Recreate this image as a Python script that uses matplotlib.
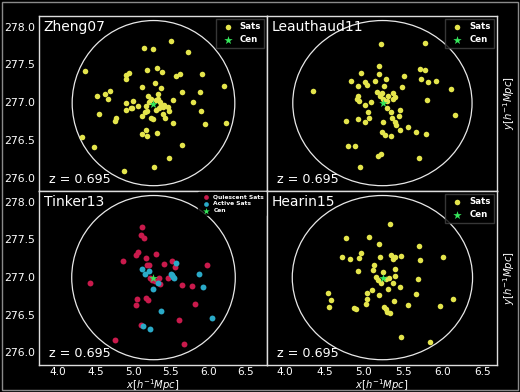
import numpy as np
import matplotlib.pyplot as plt
from matplotlib.patches import Ellipse, Rectangle

# halo centre and redshift (same halo in every panel)
cen_x = [5.263, 5.236, 5.267, 5.236]
cen_y = [276.98, 276.99, 276.99, 276.99]
halo_x = [5.27, 5.234, 5.27, 5.234]
halo_y = [276.99, 276.99, 276.99, 276.99]
halo_r = 1.09
redshift = 0.695
models = ['Zheng07', 'Leauthaud11', 'Tinker13', 'Hearin15']

zheng_x = [5.498, 5.144, 5.259, 5.733, 4.363, 5.188, 5.321, 5.387, 4.949, 4.900,
           4.905, 5.574, 5.618, 5.919, 5.290, 5.370, 5.113, 4.696, 4.629, 4.519,
           4.668, 5.653, 5.888, 6.207, 5.791, 5.525, 4.997, 4.900, 5.064, 4.989,
           4.966, 4.900, 4.550, 4.776, 4.754, 5.113, 5.157, 5.188, 5.241, 5.259,
           5.396, 5.427, 5.480, 5.525, 5.902, 5.950, 6.230, 5.166, 5.113, 5.179,
           5.321, 4.315, 5.644, 4.483, 5.472, 4.873, 5.272, 5.197, 5.241, 5.206,
           5.299, 5.330, 5.352, 5.374, 5.396, 5.343, 5.308, 5.410, 5.175, 5.463,
           5.334]
zheng_y = [277.81, 277.72, 277.71, 277.66, 277.42, 277.43, 277.46, 277.40, 277.39, 277.36,
           277.31, 277.35, 277.38, 277.38, 277.25, 277.19, 277.20, 277.15, 277.11, 277.08,
           277.05, 277.14, 277.14, 277.21, 277.01, 277.03, 277.02, 276.99, 276.95, 276.93,
           276.92, 276.90, 276.84, 276.80, 276.75, 276.82, 276.87, 276.89, 276.79, 276.78,
           276.85, 276.80, 276.89, 276.73, 276.89, 276.72, 276.73, 276.63, 276.58, 276.55,
           276.60, 276.54, 276.44, 276.41, 276.26, 276.10, 276.14, 277.08, 277.05, 277.01,
           277.03, 277.05, 277.01, 276.97, 276.94, 276.92, 276.90, 276.96, 276.95, 276.94,
           277.11]

leau_x = [5.219, 5.776, 4.359, 6.105, 6.152, 5.190, 4.958, 5.194, 4.840, 5.017,
          5.042, 5.139, 5.278, 5.502, 5.709, 5.768, 5.717, 5.806, 5.911, 4.924,
          5.253, 5.485, 5.165, 5.228, 4.924, 4.916, 4.932, 5.363, 5.388, 5.363,
          5.203, 5.245, 5.287, 5.300, 5.793, 5.093, 5.008, 5.291, 5.456, 5.338,
          5.046, 5.439, 5.350, 4.924, 5.063, 4.776, 5.017, 5.241, 5.397, 5.409,
          5.553, 5.460, 5.228, 5.270, 5.338, 5.654, 5.785, 4.802, 4.890, 5.211,
          5.173, 5.700, 4.945]
leau_y = [277.77, 277.78, 277.15, 277.17, 276.83, 277.48, 277.39, 277.38, 277.28, 277.27,
          277.23, 277.28, 277.31, 277.35, 277.44, 277.43, 277.31, 277.27, 277.28, 277.21,
          277.22, 277.20, 277.14, 277.13, 277.09, 277.05, 277.02, 277.12, 277.07, 277.05,
          277.08, 277.04, 277.02, 277.08, 277.03, 277.00, 276.96, 276.92, 276.90, 276.87,
          276.87, 276.82, 276.80, 276.78, 276.79, 276.76, 276.74, 276.74, 276.74, 276.70,
          276.67, 276.64, 276.61, 276.57, 276.56, 276.61, 276.58, 276.43, 276.43, 276.32,
          276.29, 276.27, 276.14]

# Tinker13 splits satellites into quiescent and active
tink_q_x = [5.117, 5.104, 5.148, 5.304, 5.060, 5.040, 4.864, 5.166, 5.183, 5.210,
            5.405, 5.520, 5.560, 5.981, 4.430, 5.343, 5.462, 5.219, 5.246, 5.294,
            5.361, 5.650, 5.787, 5.046, 5.042, 5.166, 5.193, 5.818, 5.099, 5.605,
            4.758, 5.671]
tink_q_y = [277.66, 277.56, 277.52, 277.30, 277.33, 277.29, 277.21, 277.25, 277.16, 277.16,
            277.17, 277.21, 277.13, 277.16, 276.92, 276.99, 276.99, 276.99, 276.96, 276.95,
            276.91, 276.89, 276.88, 276.71, 276.63, 276.72, 276.69, 276.64, 276.36, 276.43,
            276.16, 276.11]
tink_a_x = [5.121, 5.152, 5.206, 5.565, 5.512, 5.530, 5.548, 5.503, 5.871, 5.933,
            5.330, 5.263, 5.374, 6.048, 5.135, 5.223]
tink_a_y = [277.11, 277.04, 277.08, 277.18, 277.02, 277.00, 276.99, 277.04, 277.04, 276.86,
            276.92, 276.84, 276.55, 276.46, 276.35, 276.31]

hear_x = [5.333, 4.772, 5.068, 5.194, 5.696, 5.996, 4.717, 4.823, 4.941, 4.958,
          5.203, 5.338, 5.363, 5.388, 5.473, 5.705, 5.131, 5.392, 4.920, 5.118,
          5.245, 5.152, 5.181, 5.211, 5.278, 5.312, 5.371, 5.392, 5.684, 5.456,
          5.308, 5.105, 5.034, 5.190, 5.658, 4.540, 4.578, 4.561, 5.038, 5.025,
          5.376, 5.561, 5.966, 6.127, 4.873, 4.899, 5.253, 5.274, 5.295, 5.325,
          5.468, 5.831]
hear_y = [277.70, 277.52, 277.53, 277.43, 277.41, 277.27, 277.27, 277.24, 277.25, 277.32,
          277.27, 277.29, 277.24, 277.26, 277.28, 277.22, 277.16, 277.10, 277.08, 277.09,
          277.07, 277.00, 276.96, 276.92, 276.97, 276.98, 276.92, 277.01, 276.97, 276.87,
          276.84, 276.83, 276.79, 276.76, 276.77, 276.79, 276.69, 276.60, 276.71, 276.64,
          276.68, 276.63, 276.61, 276.70, 276.59, 276.57, 276.60, 276.57, 276.54, 276.52,
          276.20, 276.13]

xticks = [4.0, 4.5, 5.0, 5.5, 6.0, 6.5]
yticks = [276.0, 276.5, 277.0, 277.5, 278.0]

sat_col = '#e4e54c'
cen_col = '#36e85c'
q_col = '#c91a4c'
a_col = '#2aaac8'

plt.rcParams['font.family'] = 'DejaVu Sans'
fig = plt.figure(figsize=(5.2, 3.92), dpi=100, facecolor='black')

# axes boxes (left, bottom, width, height) and per-column x limits
boxes = [(0.075, 0.5128, 0.4385, 0.4464), (0.5135, 0.5128, 0.442, 0.4464),
         (0.075, 0.0689, 0.4385, 0.4439), (0.5135, 0.0689, 0.442, 0.4439)]
xlims = [(3.747, 6.78), (3.772, 6.684), (3.747, 6.78), (3.772, 6.684)]
ylim = (275.83, 278.14)

axes = []
for i, box in enumerate(boxes):
    ax = fig.add_axes(box, facecolor='black')
    ax.set_xlim(*xlims[i])
    ax.set_ylim(*ylim)
    for s in ax.spines.values():
        s.set_color('#dddddd')
        s.set_linewidth(1.0)
    ax.set_xticks(xticks)
    ax.set_yticks(yticks)
    ax.tick_params(length=0, pad=3, labelsize=7.8, colors='white')
    ax.tick_params(axis='x', pad=1.5, labelsize=7.6)
    if i % 2 == 1:
        ax.set_yticklabels([])
        ax.yaxis.set_label_position('right')
        ax.set_ylabel(r'$y[h^{-1}Mpc]$', color='white', fontsize=7.3,
                      labelpad=3)
    else:
        ax.set_yticklabels(['%.1f' % v for v in yticks])
    if i < 2:
        ax.set_xticklabels([])
    else:
        ax.set_xticklabels(['%.1f' % v for v in xticks])
        ax.set_xlabel(r'$x[h^{-1}Mpc]$', color='white', fontsize=7.2,
                      labelpad=0.3)
    axes.append(ax)

# halo boundary, drawn so it looks round with the per-column scales
for i, ax in enumerate(axes):
    x0, x1 = ax.get_xlim()
    y0, y1 = ax.get_ylim()
    w_px = boxes[i][2] * 520
    h_px = boxes[i][3] * 392
    ratio = ((y1 - y0) / h_px) / ((x1 - x0) / w_px)
    ax.add_patch(Ellipse((halo_x[i], halo_y[i]), 2 * halo_r * ratio, 2 * halo_r,
                         fill=False, edgecolor='#e8e8e8', lw=0.9))

sat_sets = [(zheng_x, zheng_y), (leau_x, leau_y), None, (hear_x, hear_y)]
for i, ax in enumerate(axes):
    if i == 2:
        ax.scatter(tink_q_x, tink_q_y, s=18, color=q_col, lw=0,
                   label='Quiescent Sats', zorder=3)
        ax.scatter(tink_a_x, tink_a_y, s=18, color=a_col, lw=0,
                   label='Active Sats', zorder=3)
        ax.scatter([cen_x[i]], [cen_y[i]], s=40, marker='*', color=cen_col,
                   lw=0, label='Cen', zorder=4)
        leg = ax.legend(loc='upper right', fontsize=4.3, frameon=True,
                        facecolor='black', edgecolor='black', markerscale=0.8,
                        borderpad=0.3, labelspacing=0.3, handletextpad=0.3,
                        borderaxespad=0.2)
    else:
        sx, sy = sat_sets[i]
        ax.scatter(sx, sy, s=16, color=sat_col, lw=0, label='Sats', zorder=3)
        ax.scatter([cen_x[i]], [cen_y[i]], s=40, marker='*', color=cen_col,
                   lw=0, label='Cen', zorder=4)
        leg = ax.legend(loc='upper right', fontsize=6.2, frameon=True,
                        facecolor='black', edgecolor='#444444',
                        borderpad=0.4, labelspacing=0.5, handletextpad=0.4,
                        borderaxespad=0.3, fancybox=False)
    for t in leg.get_texts():
        t.set_color('white')
        t.set_fontweight('bold')
    ax.text(0.02, 0.975, models[i], transform=ax.transAxes, color='white',
            fontsize=10, va='top', ha='left')
    ax.text(0.045, 0.03, 'z = %.3f' % redshift, transform=ax.transAxes,
            color='white', fontsize=9.2, va='bottom', ha='left')

# thin grey frame around the whole picture
fig.patches.append(Rectangle((0.003, 0.005), 0.994, 0.99, transform=fig.transFigure,
                             fill=False, edgecolor='#8a8a8a', lw=1.0))

fig.savefig('out.png', dpi=100, facecolor='black')
